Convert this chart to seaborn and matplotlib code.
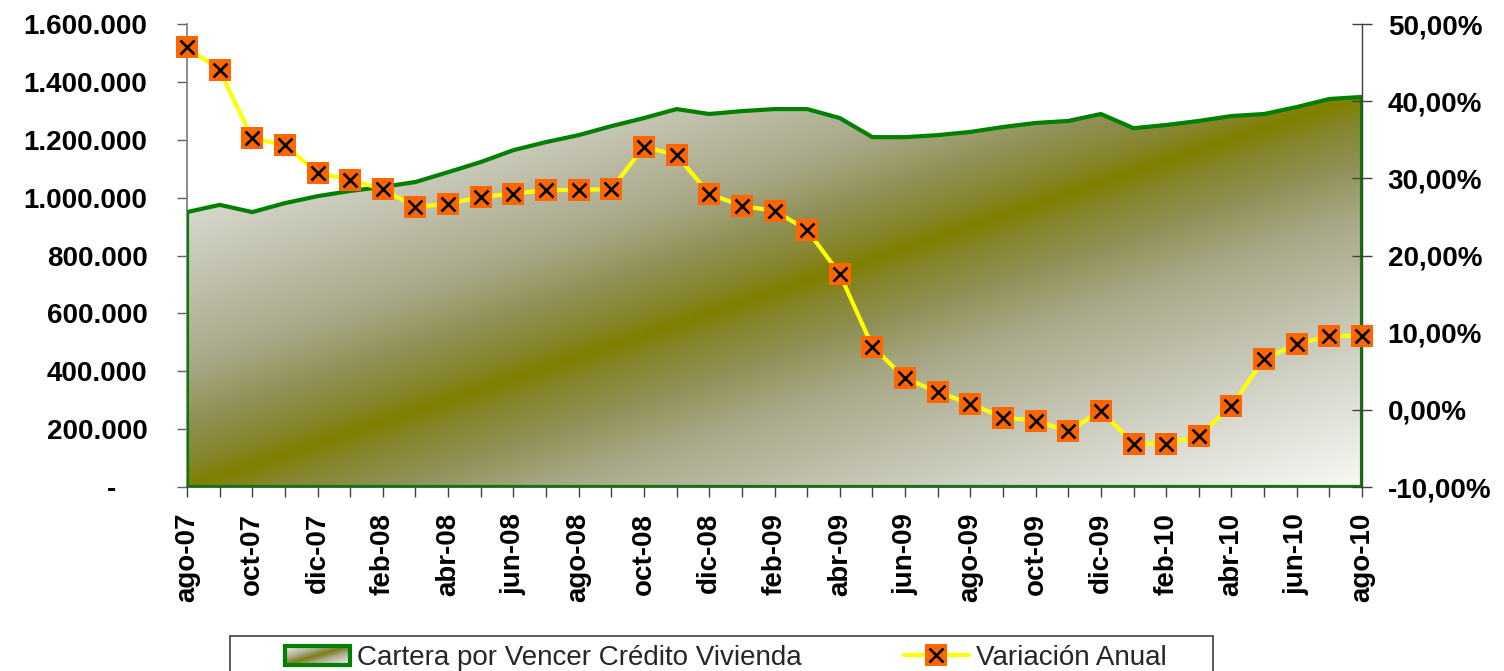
import numpy as np
import pandas as pd
import matplotlib
matplotlib.use('Agg')
import matplotlib.pyplot as plt
import seaborn as sns
from matplotlib.colors import LinearSegmentedColormap
from matplotlib.patches import Rectangle, Patch
from matplotlib.lines import Line2D
from matplotlib.ticker import FuncFormatter, MultipleLocator

# datos
meses = ['ago-07', 'sep-07', 'oct-07', 'nov-07', 'dic-07', 'ene-08', 'feb-08', 'mar-08',
         'abr-08', 'may-08', 'jun-08', 'jul-08', 'ago-08', 'sep-08', 'oct-08', 'nov-08',
         'dic-08', 'ene-09', 'feb-09', 'mar-09', 'abr-09', 'may-09', 'jun-09', 'jul-09',
         'ago-09', 'sep-09', 'oct-09', 'nov-09', 'dic-09', 'ene-10', 'feb-10', 'mar-10',
         'abr-10', 'may-10', 'jun-10', 'jul-10', 'ago-10']
cartera = [950000, 975000, 950000, 981000, 1005000, 1023000, 1037000, 1054000,
           1088000, 1123000, 1164000, 1192000, 1216000, 1247000, 1275000, 1306000,
           1289000, 1299000, 1306000, 1306000, 1275000, 1209000, 1209000, 1216000,
           1227000, 1244000, 1258000, 1265000, 1289000, 1240000, 1251000, 1265000,
           1282000, 1289000, 1313000, 1341000, 1348000]
variacion = [47.0, 44.0, 35.2, 34.3, 30.7, 29.8, 28.6, 26.3,
             26.7, 27.6, 28.0, 28.5, 28.5, 28.6, 34.1, 33.0,
             28.0, 26.4, 25.8, 23.3, 17.6, 8.2, 4.1, 2.3,
             0.8, -1.0, -1.4, -2.8, -0.1, -4.4, -4.4, -3.4,
             0.5, 6.6, 8.5, 9.6, 9.6]

df = pd.DataFrame({'mes': meses, 'pos': np.arange(len(meses)),
                   'cartera': cartera, 'variacion': variacion})

sns.set_theme(style='white')
plt.rcParams['font.family'] = ['Liberation Sans', 'DejaVu Sans']

W, H = 1504, 671
fig = plt.figure(figsize=(W / 100, H / 100), dpi=100)
ax = fig.add_axes([187 / W, 1 - 487 / H, (1362 - 187) / W, (487 - 24) / H])
ax2 = ax.twinx()

# degradado diagonal oliva -> blanco
cmap = LinearSegmentedColormap.from_list('oliva', [
    (0.0, '#808000'), (0.06, '#86862e'), (0.17, '#909058'), (0.22, '#9a9a68'),
    (0.31, '#a8a888'), (0.58, '#c8c8b8'), (0.75, '#dcdcd4'), (1.0, '#f8f8f4')])


def gradiente(nx=400, ny=300):
    u, v = np.meshgrid(np.linspace(0, 1, nx), np.linspace(0, 1, ny))
    return np.abs(u - v)


n = len(df) - 1
poly = ax.fill_between(df['pos'], 0, df['cartera'], facecolor='none',
                       edgecolor='#008000', lw=3, zorder=3)
img = ax.imshow(gradiente(), cmap=cmap, vmin=0, vmax=1, origin='lower',
                extent=(0, n, 0, df['cartera'].max()), aspect='auto', zorder=2)
img.set_clip_path(poly.get_paths()[0], transform=ax.transData)

# variacion anual
sns.lineplot(data=df, x='pos', y='variacion', ax=ax2, color='#ffff00', lw=3,
             zorder=3, clip_on=False)
ax2.plot(df['pos'], df['variacion'], ls='none', marker='s', ms=15.5,
         mfc='#ff6600', mec='#ff6600', mew=0, zorder=4, clip_on=False)
ax2.plot(df['pos'], df['variacion'], ls='none', marker='x', ms=10,
         mec='black', mew=1.9, zorder=5, clip_on=False)

# ejes
ax.set_xlim(0, n)
ax.set_ylim(0, 1600000)
ax2.set_ylim(-10, 50)
ax.set_xlabel('')
ax.set_ylabel('')
ax2.set_xlabel('')
ax2.set_ylabel('')

ax.set_xticks(df['pos'])
ax.set_xticklabels([m if i % 2 == 0 else '' for i, m in enumerate(meses)])
ax.yaxis.set_major_locator(MultipleLocator(200000))
ax.yaxis.set_major_formatter(FuncFormatter(
    lambda v, p: '-    ' if v == 0 else f'{int(v):,}'.replace(',', '.')))
ax2.yaxis.set_major_locator(MultipleLocator(10))
ax2.yaxis.set_major_formatter(FuncFormatter(
    lambda v, p: f'{v:.2f}%'.replace('.', ',')))

ax.tick_params(axis='x', direction='out', length=7, width=1, color='#404040',
               pad=11.5, labelsize=20, labelrotation=90, bottom=True)
ax.tick_params(axis='y', direction='out', length=7, width=1, color='#606060',
               pad=21.5, labelsize=20, left=True)
ax2.tick_params(axis='y', direction='inout', length=15, width=1, color='#404040',
                pad=11, labelsize=20, right=True)
for lbl in ax.get_xticklabels() + ax.get_yticklabels() + ax2.get_yticklabels():
    lbl.set_fontweight('bold')
    lbl.set_color('black')

for s in ['top', 'right']:
    ax.spines[s].set_visible(False)
ax.spines['left'].set_color('#808080')
ax.spines['bottom'].set_color('#404040')
for s in ['top', 'left', 'bottom']:
    ax2.spines[s].set_visible(False)
ax2.spines['right'].set_color('#404040')
ax2.spines['right'].set_linewidth(1)

# leyenda
fig.patches.append(Rectangle((230 / W, 1 - 690 / H), 983 / W, 54 / H,
                             transform=fig.transFigure, facecolor='none',
                             edgecolor='#404040', lw=1.2))
h1 = Patch(facecolor='none', edgecolor='#008000', lw=3)
h2 = (Line2D([], [], color='#ffff00', lw=3),
      Line2D([], [], ls='none', marker='s', ms=15.5, mfc='#ff6600', mew=0),
      Line2D([], [], ls='none', marker='x', ms=10, mec='black', mew=1.9))
leg = fig.legend([h1, h2], ['Cartera por Vencer Crédito Vivienda', 'Variación Anual'],
                 loc='center left', bbox_to_anchor=(285 / W, 1 - 658 / H), ncol=2,
                 frameon=False, fontsize=20, handlelength=2.35, handletextpad=0.25,
                 columnspacing=3.67, borderpad=0, borderaxespad=0)

fig.canvas.draw()
bb = leg.legend_handles[0].get_window_extent().transformed(fig.transFigure.inverted())
axg = fig.add_axes([bb.x0, bb.y0, bb.width, bb.height])
axg.imshow(gradiente(60, 20), cmap=cmap, vmin=0, vmax=1, origin='lower', aspect='auto')
axg.axis('off')

fig.savefig('out.png', dpi=100)
